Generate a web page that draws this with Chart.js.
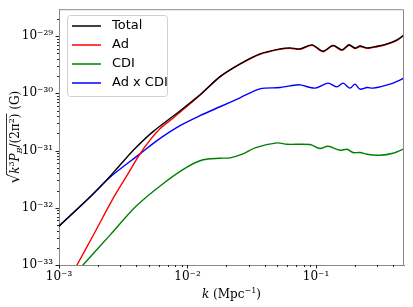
<!DOCTYPE html>
<html>
<head>
<meta charset="utf-8">
<script src="https://cdn.jsdelivr.net/npm/chart.js@4.4.1/dist/chart.umd.min.js"></script>
<style>
  html, body { margin: 0; padding: 0; background: #fff; }
  #wrap { width: 413px; height: 307px; }
</style>
</head>
<body>
<div id="wrap"><canvas id="pbChart"></canvas></div>
<script>
// tick positions and labels (log axes, only decades are labelled)
const X_TICKS = [1e-3, 1e-2, 1e-1];
const X_TICK_LABELS = ["10⁻³", "10⁻²", "10⁻¹"];
const Y_TICKS = [1e-33, 1e-32, 1e-31, 1e-30, 1e-29];
const Y_TICK_LABELS = ["10⁻³³", "10⁻³²", "10⁻³¹", "10⁻³⁰", "10⁻²⁹"];

const SERIES_NAMES = ["Total", "Ad", "CDI", "Ad x CDI"];
const SERIES_COLORS = ["#000000", "#ff0000", "#008000", "#0000ff"];

// values, k in Mpc^-1, field in G
const totalK = [1.0e-3, 1.743e-3, 2.280e-3, 2.984e-3, 3.904e-3, 5.389e-3, 8.286e-3, 1.251e-2, 1.790e-2,
  2.563e-2, 3.666e-2, 5.246e-2, 6.276e-2, 7.508e-2, 9.309e-2, 1.134e-1, 1.356e-1, 1.594e-1,
  1.806e-1, 2.012e-1, 2.200e-1, 2.494e-1, 2.983e-1, 3.568e-1, 4.270e-1, 4.839e-1];
const totalVal = [4.768e-33, 1.541e-32, 2.833e-32, 5.595e-32, 1.083e-31, 2.140e-31, 4.489e-31, 9.417e-31, 1.96e-30,
  3.28e-30, 4.90e-30, 5.99e-30, 6.23e-30, 5.99e-30, 7.03e-30, 5.44e-30, 6.89e-30, 5.75e-30,
  7.06e-30, 6.18e-30, 6.70e-30, 6.23e-30, 6.64e-30, 7.32e-30, 8.59e-30, 1.054e-29];

const adK = [1.0e-3, 1.380e-3, 1.839e-3, 2.585e-3, 3.382e-3, 4.270e-3, 5.107e-3, 6.109e-3, 7.714e-3, 9.735e-3,
  1.251e-2, 1.790e-2, 2.563e-2, 3.666e-2, 5.246e-2, 6.276e-2, 7.508e-2, 9.309e-2, 1.134e-1, 1.356e-1,
  1.594e-1, 1.806e-1, 2.012e-1, 2.200e-1, 2.494e-1, 2.983e-1, 3.568e-1, 4.270e-1, 4.839e-1];
const adVal = [2.710e-34, 1.0e-33, 3.245e-33, 1.350e-32, 3.675e-32, 8.762e-32, 1.523e-31, 2.413e-31, 3.675e-31, 5.707e-31,
  9.231e-31, 1.936e-30, 3.219e-30, 4.806e-30, 5.871e-30, 6.111e-30, 5.871e-30, 6.891e-30, 5.333e-30, 6.754e-30,
  5.641e-30, 6.918e-30, 6.062e-30, 6.567e-30, 6.111e-30, 6.514e-30, 7.172e-30, 8.418e-30, 1.033e-29];

const cdiK = [1.0e-3, 1.537e-3, 2.494e-3, 3.974e-3, 6.448e-3, 9.911e-3, 1.320e-2, 1.790e-2, 2.142e-2,
  2.704e-2, 3.352e-2, 4.972e-2, 5.947e-2, 8.981e-2, 1.074e-1, 1.240e-1, 1.538e-1, 1.743e-1,
  1.941e-1, 2.200e-1, 2.494e-1, 3.148e-1, 3.974e-1, 4.839e-1];
const cdiVal = [3.392e-34, 1.0e-33, 3.324e-33, 1.062e-32, 2.636e-32, 5.124e-32, 6.891e-32, 7.346e-32, 7.464e-32,
  8.762e-32, 1.114e-31, 1.361e-31, 1.287e-31, 1.272e-31, 1.083e-31, 1.188e-31, 1.012e-31, 1.053e-31,
  9.231e-32, 9.231e-32, 8.624e-32, 8.286e-32, 8.974e-32, 1.071e-31];

const adCdiK = [1.0e-3, 1.743e-3, 2.494e-3, 4.270e-3, 5.789e-3, 8.744e-3, 1.251e-2, 1.790e-2, 2.563e-2,
  3.666e-2, 5.246e-2, 6.276e-2, 7.508e-2, 9.822e-2, 1.240e-1, 1.457e-1, 1.623e-1, 1.839e-1,
  2.012e-1, 2.200e-1, 2.494e-1, 2.777e-1, 3.148e-1, 3.766e-1, 4.270e-1, 4.839e-1];
const adCdiVal = [4.768e-33, 1.541e-32, 3.433e-32, 8.762e-32, 1.493e-31, 2.721e-31, 4.062e-31, 5.823e-31, 8.350e-31,
  1.198e-30, 1.261e-30, 1.350e-30, 1.405e-30, 1.231e-30, 1.504e-30, 1.297e-30, 1.504e-30, 1.231e-30,
  1.445e-30, 1.183e-30, 1.261e-30, 1.231e-30, 1.297e-30, 1.445e-30, 1.617e-30, 1.860e-30];

const X_MIN = 1e-3, X_MAX = 4.84e-1;
const Y_MIN = 1e-33, Y_MAX = 2.95e-29;

function pairs(ks, vs) {
  return ks.map((k, i) => ({ x: k, y: vs[i] }));
}

const allSeries = [
  pairs(totalK, totalVal),
  pairs(adK, adVal),
  pairs(cdiK, cdiVal),
  pairs(adCdiK, adCdiVal),
];

// tick values m x 10^n inside a range, m = 1 is a major one
function logTicks(lo, hi) {
  const out = [];
  for (let e = Math.floor(Math.log10(lo)); e <= Math.ceil(Math.log10(hi)); e++) {
    for (let m = 1; m <= 9; m++) {
      const v = m * Math.pow(10, e);
      if (v >= lo * 0.999 && v <= hi * 1.001) out.push({ v, major: m === 1 });
    }
  }
  return out;
}

function drawPieces(ctx, pieces, x, y) {
  for (const p of pieces) {
    ctx.font = p.font;
    ctx.fillText(p.t, x, y + (p.dy || 0));
    x += ctx.measureText(p.t).width;
  }
  return x;
}
function piecesWidth(ctx, pieces) {
  let w = 0;
  for (const p of pieces) { ctx.font = p.font; w += ctx.measureText(p.t).width; }
  return w;
}

const SERIF = "'DejaVu Serif', 'Liberation Serif', serif";
const SPINE = "#8a8a8a";

const decorPlugin = {
  id: "decor",
  afterDraw(chart) {
    const ctx = chart.ctx;
    const a = chart.chartArea;
    const xs = chart.scales.x, ys = chart.scales.y;
    ctx.save();

    // top / right frame
    ctx.strokeStyle = SPINE;
    ctx.lineWidth = 1;
    ctx.beginPath();
    ctx.moveTo(a.left, a.top + 0.5);
    ctx.lineTo(a.right - 0.5, a.top + 0.5);
    ctx.lineTo(a.right - 0.5, a.bottom);
    ctx.stroke();

    // tick marks, outward
    ctx.strokeStyle = "#222";
    for (const t of logTicks(X_MIN, X_MAX)) {
      const px = Math.round(xs.getPixelForValue(t.v)) + 0.5;
      const len = t.major ? 3.5 : 2;
      ctx.beginPath();
      ctx.moveTo(px, a.bottom);
      ctx.lineTo(px, a.bottom + len);
      ctx.stroke();
    }
    for (const t of logTicks(Y_MIN, Y_MAX)) {
      const py = Math.round(ys.getPixelForValue(t.v)) + 0.5;
      const len = t.major ? 3.5 : 2;
      ctx.beginPath();
      ctx.moveTo(a.left, py);
      ctx.lineTo(a.left - len, py);
      ctx.stroke();
    }

    // legend box
    const lx = 67, ly = 15, lw = 100, lh = 81;
    ctx.fillStyle = "rgba(255,255,255,0.85)";
    ctx.strokeStyle = "#d0d0d0";
    ctx.lineWidth = 1;
    ctx.beginPath();
    ctx.roundRect(lx + 0.5, ly + 0.5, lw, lh, 3);
    ctx.fill();
    ctx.stroke();
    ctx.font = "13px 'DejaVu Sans', sans-serif";
    ctx.textBaseline = "middle";
    ctx.textAlign = "left";
    SERIES_NAMES.forEach((name, i) => {
      const yy = 26 + i * 19;
      ctx.strokeStyle = SERIES_COLORS[i];
      ctx.lineWidth = 1.5;
      ctx.beginPath();
      ctx.moveTo(72, yy);
      ctx.lineTo(101, yy);
      ctx.stroke();
      ctx.fillStyle = "#000";
      ctx.fillText(name, 112, yy);
    });

    // x axis title: k (Mpc^-1)
    ctx.fillStyle = "#000";
    ctx.textBaseline = "alphabetic";
    const xPieces = [
      { t: "k", font: "italic 12px " + SERIF },
      { t: " (Mpc", font: "12px " + SERIF },
      { t: "−1", font: "8px " + SERIF, dy: -5 },
      { t: ")", font: "12px " + SERIF },
    ];
    const xw = piecesWidth(ctx, xPieces);
    drawPieces(ctx, xPieces, (a.left + a.right) / 2 - xw / 2, 298);

    // y axis title: sqrt(k^3 P_B / (2 pi^2)) (G)
    ctx.translate(19, (a.top + a.bottom) / 2);
    ctx.rotate(-Math.PI / 2);
    const rad = [{ t: "√", font: "15px " + SERIF }];
    const inner = [
      { t: "k", font: "italic 12px " + SERIF },
      { t: "3", font: "8px " + SERIF, dy: -5 },
      { t: "P", font: "italic 12px " + SERIF },
      { t: "B", font: "italic 8px " + SERIF, dy: 3 },
      { t: "/(2π", font: "12px " + SERIF },
      { t: "2", font: "8px " + SERIF, dy: -5 },
      { t: ")", font: "12px " + SERIF },
    ];
    const tail = [{ t: " (G)", font: "12px " + SERIF }];
    const total = piecesWidth(ctx, rad) + piecesWidth(ctx, inner) + piecesWidth(ctx, tail);
    let cx = -total / 2;
    cx = drawPieces(ctx, rad, cx, 0);
    const ox = cx;
    cx = drawPieces(ctx, inner, cx, 0);
    ctx.strokeStyle = "#000";
    ctx.lineWidth = 0.8;
    ctx.beginPath();
    ctx.moveTo(ox - 1, -12.5);
    ctx.lineTo(cx, -12.5);
    ctx.stroke();
    drawPieces(ctx, tail, cx, 0);

    ctx.restore();
  }
};

new Chart(document.getElementById("pbChart"), {
  type: "line",
  data: {
    datasets: allSeries.map((pts, i) => ({
      label: SERIES_NAMES[i],
      data: pts,
      borderColor: SERIES_COLORS[i],
      borderWidth: 1.4,
      pointRadius: 0,
      tension: 0.3,
      fill: false,
    })),
  },
  options: {
    animation: false,
    responsive: true,
    maintainAspectRatio: false,
    layout: { padding: { top: 8, right: 9, left: 0, bottom: 0 } },
    plugins: { legend: { display: false }, tooltip: { enabled: false } },
    scales: {
      x: {
        type: "logarithmic",
        min: X_MIN,
        max: X_MAX,
        grid: { display: false, drawTicks: true, tickLength: 4 },
        border: { display: true, color: SPINE, width: 1 },
        afterBuildTicks: (s) => { s.ticks = X_TICKS.map(v => ({ value: v })); },
        afterFit: (s) => { s.height = 42; },
        ticks: {
          color: "#000",
          font: { family: SERIF, size: 12 },
          padding: 1,
          maxRotation: 0,
          autoSkip: false,
          callback: (v, i) => X_TICK_LABELS[i],
        },
      },
      y: {
        type: "logarithmic",
        min: Y_MIN,
        max: Y_MAX,
        grid: { display: false, drawTicks: true, tickLength: 4 },
        border: { display: true, color: SPINE, width: 1 },
        afterBuildTicks: (s) => { s.ticks = Y_TICKS.map(v => ({ value: v })); },
        afterFit: (s) => { s.width = 59; },
        ticks: {
          color: "#000",
          font: { family: SERIF, size: 12 },
          padding: 2,
          autoSkip: false,
          callback: (v, i) => Y_TICK_LABELS[i],
        },
      },
    },
  },
  plugins: [decorPlugin],
});
</script>
</body>
</html>
